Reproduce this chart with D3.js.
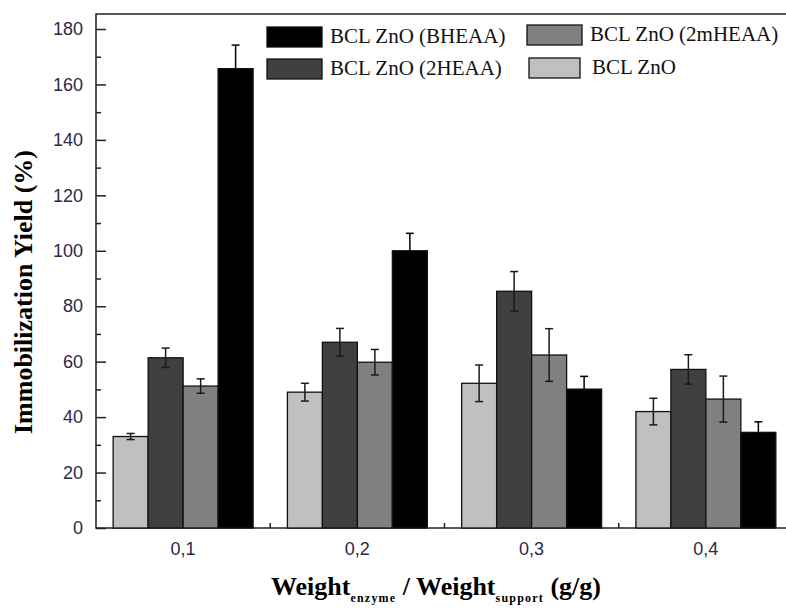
<!DOCTYPE html>
<html><head><meta charset="utf-8">
<script src="https://cdn.jsdelivr.net/npm/d3@7"></script>
<style>body{margin:0;background:#fff}svg{display:block}</style>
</head><body><svg id="c" width="786" height="608"></svg>
<script>
const categories = ["0,1","0,2","0,3","0,4"];
const seriesNames = ["BCL ZnO","BCL ZnO (2HEAA)","BCL ZnO (2mHEAA)","BCL ZnO (BHEAA)"];
const seriesColors = ["#c0c0c0","#404040","#808080","#000000"];
const valZnO    = [33, 49, 52.2, 42];
const val2HEAA  = [61.4, 67, 85.4, 57.2];
const val2mHEAA = [51.2, 59.8, 62.4, 46.5];
const valBHEAA  = [165.7, 100, 50.1, 34.5];
const errZnO    = [1.1, 3.2, 6.6, 4.8];
const err2HEAA  = [3.5, 5, 7.1, 5.3];
const err2mHEAA = [2.6, 4.6, 9.5, 8.3];
const errBHEAA  = [8.5, 6.3, 4.6, 3.8];
const yTicks = [0,20,40,60,80,100,120,140,160,180];

const values = [valZnO, val2HEAA, val2mHEAA, valBHEAA];
const errors = [errZnO, err2HEAA, err2mHEAA, errBHEAA];

const svg = d3.select("#c");
const L = 96, T = 14, B = 528, R = 793;
const x = d3.scaleBand().domain(categories).range([L, R]).padding(0);
const xi = d3.scaleBand().domain(d3.range(4)).range([0, x.bandwidth()]).paddingInner(0).paddingOuter(0.49);
const y = d3.scaleLinear().domain([0, 180]).range([B, 29]);

// frame
svg.append("rect").attr("x", L).attr("y", T).attr("width", R - L + 20).attr("height", B - T)
  .attr("fill", "none").attr("stroke", "#222").attr("stroke-width", 1.5);

// bars
const data = [];
categories.forEach((c, ci) => values.forEach((s, si) => data.push({c, si, v: s[ci], e: errors[si][ci]})));
const g = svg.append("g");
g.selectAll("rect.bar").data(data).join("rect").attr("class","bar")
  .attr("x", d => x(d.c) + xi(d.si)).attr("width", xi.bandwidth())
  .attr("y", d => y(d.v)).attr("height", d => y(0) - y(d.v))
  .attr("fill", d => seriesColors[d.si]).attr("stroke", "#111").attr("stroke-width", 1.3);

// error bars
const cx = d => x(d.c) + xi(d.si) + xi.bandwidth()/2;
const eb = g.selectAll("g.eb").data(data).join("g").attr("class","eb")
  .attr("stroke", d => d.si === 3 ? "#000" : "#1a1a1a").attr("stroke-width", 1.5);
eb.append("line").attr("x1", cx).attr("x2", cx)
  .attr("y1", d => y(d.v + d.e)).attr("y2", d => y(d.v - d.e));
eb.append("line").attr("x1", d => cx(d) - 4).attr("x2", d => cx(d) + 4)
  .attr("y1", d => y(d.v + d.e)).attr("y2", d => y(d.v + d.e));
eb.append("line").attr("x1", d => cx(d) - 4).attr("x2", d => cx(d) + 4)
  .attr("y1", d => y(d.v - d.e)).attr("y2", d => y(d.v - d.e));

// y axis
const yAxis = d3.axisLeft(y).tickValues(yTicks).tickSize(-10).tickPadding(13);
const ya = svg.append("g").attr("transform", `translate(${L},0)`).call(yAxis);
ya.select(".domain").remove();
ya.selectAll(".tick line").attr("stroke", "#222").attr("stroke-width", 1.5);
ya.selectAll(".tick text").attr("font-family", "Liberation Sans, Arial, sans-serif").attr("font-size", 18).attr("fill", "#2a2a48");
const yMinor = d3.axisLeft(y).tickValues(d3.range(10, 180, 20)).tickSize(-5).tickFormat("");
const ym = svg.append("g").attr("transform", `translate(${L},0)`).call(yMinor);
ym.select(".domain").remove();
ym.selectAll(".tick line").attr("stroke", "#222").attr("stroke-width", 1.5);

// x axis
const xa = svg.append("g").attr("transform", `translate(0,${B})`).call(d3.axisBottom(x).tickSize(0).tickPadding(14));
xa.select(".domain").remove();
xa.selectAll(".tick text").attr("font-family", "Liberation Sans, Arial, sans-serif").attr("font-size", 18).attr("fill", "#2a2a48");
svg.append("g").selectAll("line").data(categories.slice(1)).join("line")
  .attr("x1", d => x(d)).attr("x2", d => x(d)).attr("y1", B).attr("y2", B - 5)
  .attr("stroke", "#222").attr("stroke-width", 1.5);

// axis titles
svg.append("text").attr("transform", "translate(32,292) rotate(-90)").attr("text-anchor", "middle")
  .attr("font-family", "Liberation Serif, Times New Roman, serif").attr("font-weight", "bold").attr("font-size", 26)
  .text("Immobilization Yield (%)");
const xt = svg.append("text").attr("x", 436).attr("y", 595).attr("text-anchor", "middle")
  .attr("font-family", "Liberation Serif, Times New Roman, serif").attr("font-weight", "bold").attr("font-size", 26);
xt.append("tspan").text("Weight");
xt.append("tspan").attr("font-size", 12).attr("letter-spacing", 1.2).attr("dy", 7).text("enzyme");
xt.append("tspan").attr("dy", -7).text(" / Weight");
xt.append("tspan").attr("font-size", 12).attr("letter-spacing", 1.2).attr("dy", 7).text("support");
xt.append("tspan").attr("dy", -7).text(" (g/g)");

// legend
const legendItems = [
  {si: 3, x: 267, y: 27},
  {si: 1, x: 267, y: 59},
  {si: 2, x: 527, y: 25},
  {si: 0, x: 529, y: 58}
];
const lg = svg.append("g").selectAll("g").data(legendItems).join("g").attr("transform", d => `translate(${d.x},${d.y})`);
lg.append("rect").attr("width", d => d.si === 0 ? 51 : 55).attr("height", 20)
  .attr("fill", d => seriesColors[d.si]).attr("stroke", "#111").attr("stroke-width", 1.3);
lg.append("text").attr("x", 63).attr("y", 16)
  .attr("font-family", "Liberation Serif, Times New Roman, serif").attr("font-size", 21).attr("fill", "#111")
  .text(d => seriesNames[d.si]);
</script></body></html>
